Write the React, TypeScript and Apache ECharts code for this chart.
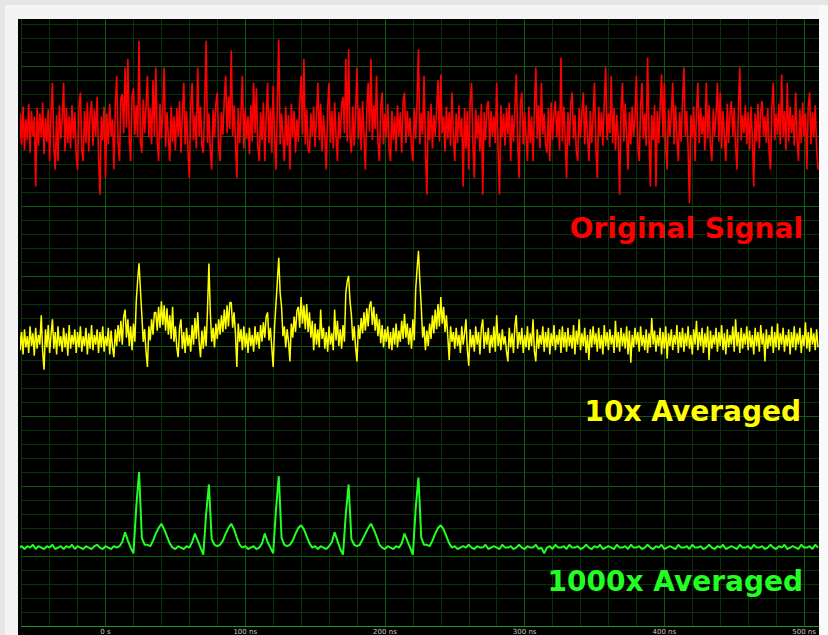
import React, { useEffect, useRef } from "react";
import * as echarts from "echarts";

// Oscilloscope time bases (ns)
const SAMPLE_START_NS = -62;
const NOISY_STEP_NS = 1; // original and 10x traces: one sample per ns
const AVG_STEP_NS = 2; // 1000x trace: one sample every 2 ns

// X tick labels (ns)
const X_TICK_VALUES = [0, 100, 200, 300, 400, 500];
const X_TICK_LABELS = ["0 s", "100 ns", "200 ns", "300 ns", "400 ns", "500 ns"];

// Trace values (display units, 50 per major division)
const originalSignal = [
  333, 366, 344, 371, 340, 362, 347, 373, 338, 368, 350, 364, 314, 370, 343, 366, 349, 374, 337, 363,
  346, 369, 332, 367, 388, 342, 326, 365, 332, 372, 348, 362, 388, 339, 370, 345, 364, 341, 372, 348,
  367, 336, 326, 371, 381, 340, 332, 368, 345, 374, 339, 366, 375, 343, 369, 350, 378, 336, 308, 364,
  347, 371, 320, 366, 344, 373, 350, 362, 326, 370, 393, 345, 332, 377, 380, 352, 399, 356, 405, 348,
  332, 378, 384, 351, 372, 349, 418, 346, 338, 376, 352, 371, 393, 349, 370, 344, 390, 350, 399, 347,
  332, 373, 348, 369, 399, 342, 367, 349, 332, 371, 346, 364, 340, 370, 350, 375, 338, 366, 388, 344,
  368, 339, 320, 372, 388, 347, 365, 341, 399, 350, 371, 343, 338, 374, 418, 345, 366, 340, 326, 369,
  349, 373, 381, 343, 332, 367, 351, 376, 393, 352, 378, 355, 411, 350, 372, 346, 320, 370, 345, 366,
  393, 341, 369, 348, 364, 337, 372, 346, 388, 352, 384, 343, 332, 367, 347, 374, 332, 363, 388, 345,
  370, 338, 386, 349, 326, 372, 419, 344, 366, 350, 332, 371, 343, 365, 326, 373, 349, 368, 338, 362,
  346, 374, 393, 351, 405, 344, 369, 340, 338, 366, 350, 371, 342, 364, 388, 347, 373, 339, 365, 349,
  326, 370, 388, 345, 368, 341, 374, 350, 332, 367, 348, 372, 378, 352, 405, 346, 412, 349, 338, 371,
  343, 366, 399, 348, 370, 340, 375, 351, 326, 369, 388, 353, 405, 347, 372, 355, 393, 346, 332, 370,
  381, 344, 366, 349, 373, 341, 332, 368, 347, 364, 339, 372, 350, 367, 338, 374, 381, 345, 368, 350,
  363, 342, 332, 370, 348, 375, 412, 344, 366, 351, 393, 340, 308, 368, 347, 373, 341, 365, 350, 370,
  390, 346, 394, 352, 364, 339, 371, 348, 367, 343, 381, 349, 332, 366, 345, 372, 350, 363, 314, 370,
  341, 368, 326, 374, 388, 344, 320, 369, 348, 365, 339, 373, 308, 367, 347, 371, 375, 342, 368, 350,
  364, 345, 388, 340, 308, 372, 349, 366, 343, 370, 351, 374, 332, 365, 346, 369, 394, 347, 320, 373,
  381, 344, 367, 350, 332, 371, 345, 364, 332, 369, 399, 348, 372, 341, 388, 351, 366, 344, 338, 370,
  332, 374, 347, 366, 375, 349, 368, 340, 406, 346, 371, 350, 320, 367, 343, 373, 381, 348, 365, 339,
  332, 370, 349, 366, 381, 344, 372, 350, 332, 368, 345, 364, 388, 341, 320, 371, 350, 367, 343, 374,
  399, 347, 366, 352, 393, 345, 370, 340, 365, 349, 308, 369, 388, 346, 373, 351, 326, 367, 344, 371,
  350, 364, 393, 342, 332, 370, 388, 348, 366, 343, 406, 351, 314, 365, 347, 372, 314, 368, 345, 371,
  394, 349, 388, 342, 326, 369, 350, 366, 388, 344, 372, 348, 332, 367, 346, 374, 399, 350, 368, 341,
  302, 365, 349, 371, 332, 367, 388, 345, 370, 351, 364, 340, 388, 348, 372, 343, 332, 369, 350, 365,
  388, 346, 381, 341, 368, 349, 332, 373, 345, 366, 375, 350, 370, 343, 326, 368, 399, 347, 365, 352,
  372, 344, 367, 340, 371, 349, 314, 366, 346, 373, 341, 368, 375, 350, 364, 345, 370, 339, 326, 372,
  388, 347, 366, 351, 373, 344, 394, 349, 368, 340, 388, 346, 371, 352, 365, 343, 381, 348, 332, 369,
  345, 374, 350, 366, 326, 371, 381, 344, 367, 349, 372, 341,
  326,
];

const averaged10x = [
  219, 197, 210, 194, 212, 199, 207, 195, 214, 200, 209, 193, 213, 198, 208, 201, 222, 196, 183, 212,
  199, 215, 195, 208, 219, 198, 210, 194, 214, 200, 207, 196, 213, 199, 209, 193, 215, 198, 208, 201,
  212, 195, 210, 199, 214, 196, 207, 200, 213, 194, 209, 198, 215, 197, 208, 201, 212, 195, 210, 199,
  214, 196, 207, 200, 213, 194, 211, 199, 192, 212, 200, 215, 203, 218, 201, 221, 226, 206, 219, 200,
  214, 197, 216, 203, 232, 247, 259, 240, 222, 203, 212, 196, 185, 214, 204, 219, 208, 224, 224, 211,
  228, 213, 232, 215, 229, 211, 227, 208, 222, 205, 228, 203, 214, 199, 192, 213, 219, 198, 210, 195,
  213, 200, 208, 196, 215, 201, 220, 205, 224, 203, 192, 211, 198, 214, 200, 226, 259, 224, 203, 213,
  199, 216, 205, 219, 208, 222, 210, 226, 212, 229, 214, 231, 231, 213, 224, 209, 185, 216, 203, 212,
  197, 214, 199, 209, 195, 213, 200, 208, 196, 214, 201, 210, 198, 215, 203, 217, 206, 221, 224, 204,
  213, 199, 185, 214, 230, 246, 263, 238, 228, 207, 214, 199, 212, 203, 189, 216, 206, 221, 210, 225,
  228, 213, 235, 216, 229, 212, 230, 210, 224, 206, 218, 197, 216, 201, 212, 199, 226, 205, 213, 198,
  210, 196, 214, 201, 209, 197, 226, 204, 218, 200, 212, 198, 215, 203, 238, 246, 250, 232, 222, 204,
  214, 199, 189, 215, 205, 220, 209, 224, 211, 227, 214, 229, 232, 215, 228, 211, 223, 207, 219, 202,
  215, 199, 212, 203, 214, 198, 210, 197, 213, 201, 216, 199, 211, 203, 218, 205, 223, 206, 216, 201,
  213, 198, 219, 204, 240, 255, 268, 246, 228, 206, 214, 197, 211, 200, 216, 205, 222, 209, 226, 212,
  230, 214, 235, 216, 228, 210, 222, 207, 190, 214, 203, 210, 198, 213, 200, 208, 195, 214, 201, 209,
  219, 197, 186, 212, 199, 208, 196, 214, 201, 210, 194, 213, 219, 198, 210, 201, 213, 195, 208, 199,
  214, 196, 222, 200, 209, 197, 212, 201, 207, 196, 189, 213, 199, 209, 195, 214, 222, 198, 210, 201,
  213, 195, 208, 199, 214, 197, 209, 200, 219, 196, 189, 212, 198, 208, 201, 214, 196, 210, 199, 213,
  194, 209, 200, 215, 197, 208, 201, 212, 195, 214, 199, 210, 196, 213, 200, 208, 198, 215, 194, 211,
  201, 219, 197, 209, 200, 213, 195, 208, 190, 212, 199, 214, 201, 209, 196, 213, 198, 208, 194, 215,
  200, 210, 197, 212, 201, 208, 195, 218, 199, 210, 196, 213, 200, 209, 198, 214, 194, 211, 188, 208,
  199, 213, 201, 210, 196, 214, 200, 208, 197, 212, 195, 209, 199, 220, 201, 211, 196, 208, 200, 213,
  194, 210, 198, 214, 191, 209, 200, 212, 197, 208, 201, 215, 195, 210, 199, 213, 196, 209, 200, 214,
  198, 208, 194, 212, 201, 218, 197, 210, 200, 213, 195, 209, 199, 214, 190, 211, 198, 208, 201, 213,
  196, 210, 200, 215, 197, 209, 194, 212, 199, 208, 201, 214, 196, 219, 200, 210, 195, 213, 198, 209,
  201, 214, 197, 211, 199, 208, 194, 213, 200, 210, 196, 215, 201, 209, 189, 212, 198, 208, 200, 214,
  195, 210, 199, 216, 197, 209, 201, 213, 196, 208, 200, 212, 194, 210, 199, 214, 197, 209, 201, 213,
  195, 208, 200, 217, 198, 210, 196, 213, 201, 209, 197, 212,
  199,
];

const averaged1000x = [
  56, 57, 55, 57, 56, 58, 55, 57, 56, 55,
  57, 56, 58, 55, 56, 57, 55, 57, 56, 58,
  55, 57, 56, 55, 57, 56, 55, 57, 58, 56,
  55, 57, 56, 55, 57, 56, 57, 60, 67, 61,
  56, 52, 85, 110, 63, 58, 58, 57, 61, 66,
  70, 73, 69, 64, 59, 56, 55, 57, 56, 55,
  57, 56, 60, 66, 61, 56, 51, 80, 101, 62,
  58, 57, 58, 61, 66, 70, 73, 69, 63, 58,
  56, 57, 55, 56, 57, 55, 56, 59, 66, 60,
  56, 52, 83, 107, 63, 58, 57, 58, 61, 66,
  70, 72, 69, 64, 59, 56, 57, 55, 57, 56,
  55, 57, 60, 67, 61, 55, 51, 80, 101, 62,
  58, 57, 58, 62, 66, 70, 73, 69, 64, 58,
  56, 55, 57, 56, 55, 57, 56, 59, 66, 61,
  56, 51, 84, 106, 63, 58, 58, 57, 61, 66,
  70, 72, 69, 64, 59, 56, 57, 55, 56, 57,
  56, 58, 56, 55, 57, 56, 56, 58, 55, 56,
  57, 56, 55, 58, 56, 56, 57, 55, 56, 58,
  56, 55, 57, 56, 56, 58, 55, 56, 52, 56,
  57, 55, 58, 56, 56, 57, 55, 58, 56, 56,
  57, 55, 56, 58, 56, 55, 57, 56, 58, 55,
  56, 57, 56, 55, 58, 56, 56, 57, 55, 58,
  56, 56, 57, 55, 56, 58, 56, 55, 57, 56,
  58, 55, 56, 57, 56, 55, 58, 56, 56, 57,
  55, 58, 56, 56, 57, 55, 56, 58, 56, 55,
  57, 56, 58, 55, 56, 57, 56, 55, 58, 56,
  56, 57, 55, 58, 56, 56, 57, 55, 56, 58,
  56, 55, 57, 56, 58, 55, 56, 57, 56, 55,
  58, 56, 56, 57, 55, 58, 56,
];

const TRACE_NAMES = ["Original Signal", "10x Averaged", "1000x Averaged"];
const TRACE_COLORS = ["#ff0000", "#ffff00", "#22ff22"];

export default function App() {
  const ref = useRef<HTMLDivElement>(null);

  useEffect(() => {
    if (!ref.current) return;
    const chart = echarts.init(ref.current, null, { renderer: "svg" });
    const toPairs = (vals: number[], step: number) =>
      vals.map((v, i) => [SAMPLE_START_NS + i * step, v]);

    const minor = "#093209";
    const major = "#0e5c0e";
    const labelFont = { fontFamily: "DejaVu Sans", fontWeight: "bold", fontSize: 28 };

    chart.setOption({
      animation: false,
      backgroundColor: "#f4f4f4",
      grid: {
        left: 21.7,
        right: 9,
        top: 19,
        bottom: 9,
        containLabel: false,
        outerBoundsMode: "none",
      },
      xAxis: {
        type: "value",
        min: -60,
        max: 510.7,
        interval: 20,
        axisLine: { show: true, onZero: false, lineStyle: { color: "#1a9e1a", width: 1 } },
        axisTick: { show: false },
        axisLabel: {
          show: true,
          fontSize: 7,
          fontFamily: "DejaVu Sans",
          color: "#c8c8c8",
          margin: 2,
          formatter: (v: number) => {
            const r = Math.round(v);
            const k = X_TICK_VALUES.indexOf(r);
            return Math.abs(v - r) < 1e-6 && k >= 0 ? X_TICK_LABELS[k] : "";
          },
        },
        splitLine: {
          show: true,
          showMaxLine: false,
          lineStyle: { color: [minor, minor, minor, major, minor], width: 1 },
        },
      },
      yAxis: {
        type: "value",
        min: 0,
        max: 433.57,
        interval: 10,
        axisLine: { show: false },
        axisTick: { show: false },
        axisLabel: { show: false },
        splitLine: {
          show: true,
          showMaxLine: false,
          lineStyle: { color: [major, minor, minor, minor, minor], width: 1 },
        },
      },
      graphic: [
        { type: "rect", z: -20, silent: true, shape: { x: 0, y: 0, width: 828, height: 5 }, style: { fill: "#e6e6e6" } },
        { type: "rect", z: -20, silent: true, shape: { x: 0, y: 0, width: 5, height: 635 }, style: { fill: "#e6e6e6" } },
        { type: "rect", z: -20, silent: true, shape: { x: 819, y: 5, width: 9, height: 630 }, style: { fill: "#f9f9f9" } },
        { type: "rect", z: -10, silent: true, shape: { x: 18, y: 19, width: 801, height: 616 }, style: { fill: "#000000" } },
        {
          type: "text", z: 50, silent: true, x: 803, y: 228,
          style: { text: TRACE_NAMES[0], fill: TRACE_COLORS[0], align: "right", verticalAlign: "middle", ...labelFont },
        },
        {
          type: "text", z: 50, silent: true, x: 801, y: 411,
          style: { text: TRACE_NAMES[1], fill: TRACE_COLORS[1], align: "right", verticalAlign: "middle", ...labelFont },
        },
        {
          type: "text", z: 50, silent: true, x: 803, y: 581.5,
          style: { text: TRACE_NAMES[2], fill: TRACE_COLORS[2], align: "right", verticalAlign: "middle", ...labelFont },
        },
      ],
      series: [
        {
          name: TRACE_NAMES[0],
          type: "line",
          data: toPairs(originalSignal, NOISY_STEP_NS),
          showSymbol: false,
          smooth: false,
          clip: false,
          lineStyle: { color: TRACE_COLORS[0], width: 1.6 },
          z: 3,
        },
        {
          name: TRACE_NAMES[1],
          type: "line",
          data: toPairs(averaged10x, NOISY_STEP_NS),
          showSymbol: false,
          smooth: false,
          clip: false,
          lineStyle: { color: TRACE_COLORS[1], width: 1.5 },
          z: 3,
        },
        {
          name: TRACE_NAMES[2],
          type: "line",
          data: toPairs(averaged1000x, AVG_STEP_NS),
          showSymbol: false,
          smooth: false,
          clip: false,
          lineStyle: { color: TRACE_COLORS[2], width: 2 },
          z: 3,
        },
      ],
    });

    return () => chart.dispose();
  }, []);

  return (
    <div style={{ position: "fixed", left: 0, top: 0, width: 828, height: 635 }}>
      <div ref={ref} style={{ width: 828, height: 635 }} />
    </div>
  );
}
